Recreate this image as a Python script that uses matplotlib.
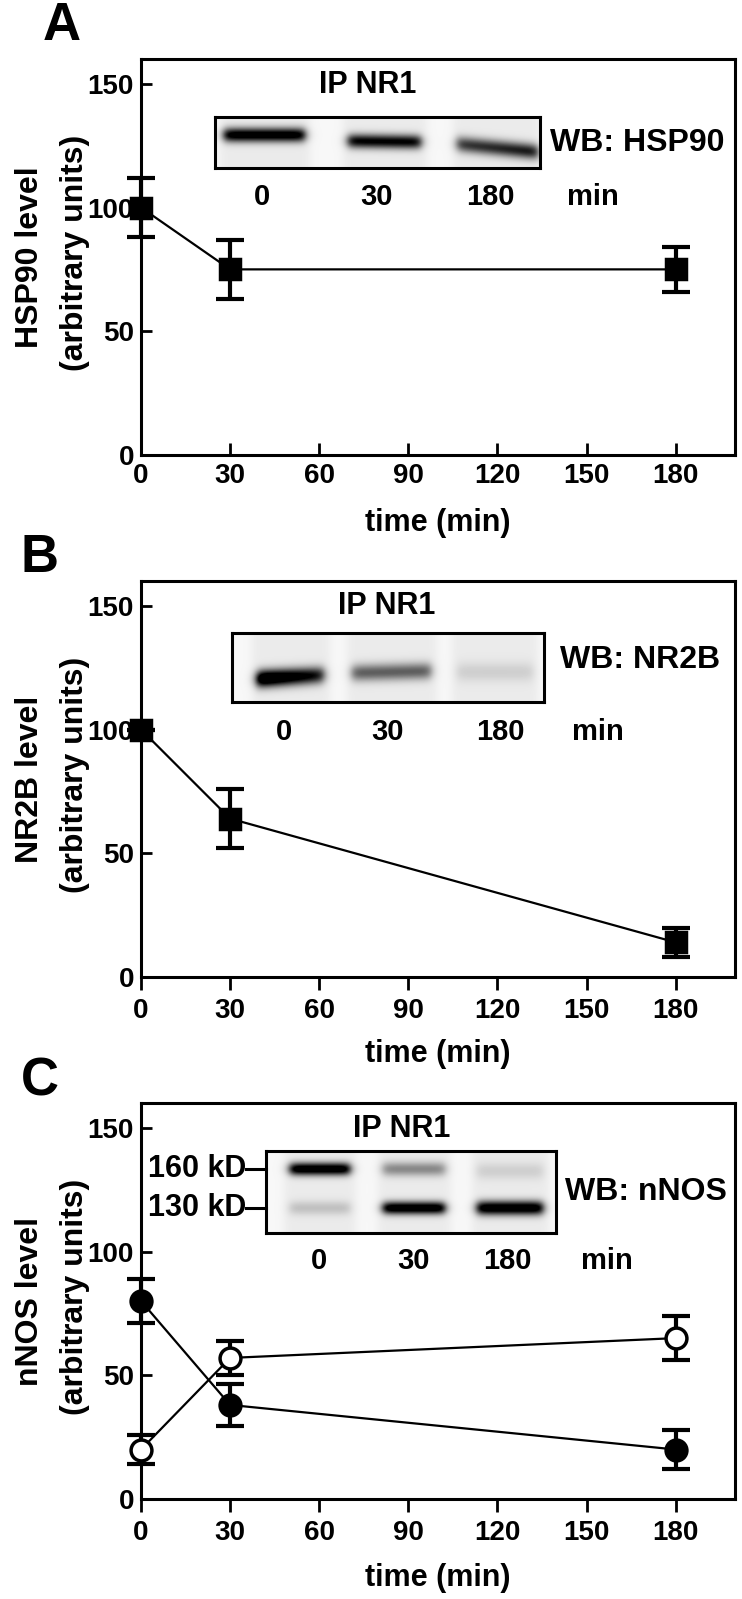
import numpy as np
import matplotlib
matplotlib.use("Agg")
import matplotlib.pyplot as plt
from matplotlib import font_manager

# ---- data ----
time_pts = [0, 30, 180]
x_ticks = [0, 30, 60, 90, 120, 150, 180]
y_ticks = [0, 50, 100, 150]
lane_labels = ["0", "30", "180"]

hsp90_mean = [100, 75, 75]
hsp90_err = [12, 12, 9]

nr2b_mean = [100, 64, 14]
nr2b_err = [0, 12, 6]

nnos160_mean = [80, 38, 20]
nnos160_err = [9, 8.5, 8]
nnos130_mean = [20, 57, 65]
nnos130_err = [6, 7, 9]

# relative band darkness per lane (0, 30, 180 min)
hsp90_band = [0.95, 0.85, 0.70]
nr2b_band = [1.0, 0.50, 0.10]
nnos160_band = [1.0, 0.35, 0.10]
nnos130_band = [0.15, 1.0, 1.0]

panel_letters = ["A", "B", "C"]
y_names = ["HSP90 level", "NR2B level", "nNOS level"]
wb_names = ["WB: HSP90", "WB: NR2B", "WB: nNOS"]

# ---- layout (pixels) ----
W, H = 742, 1599
names = [f.name for f in font_manager.fontManager.ttflist]
FONT = "Liberation Sans" if "Liberation Sans" in names else "DejaVu Sans"
plt.rcParams["font.family"] = FONT
plt.rcParams["font.weight"] = "bold"

fig = plt.figure(figsize=(W / 100, H / 100), dpi=100)


def rect(x0, y0, x1, y1):
    return [x0 / W, 1 - y1 / H, (x1 - x0) / W, (y1 - y0) / H]


def ftext(x, y, s, **kw):
    kw.setdefault("fontweight", "bold")
    return fig.text(x / W, 1 - y / H, s, **kw)


def draw_blot(box, lanes, bands):
    # lanes: (x0, x1) columns of the gel; bands: (x0, x1, y_left, y_right, amp, sigma, skew)
    x0, y0, x1, y1 = box
    w, h = x1 - x0, y1 - y0
    bax = fig.add_axes(rect(*box))
    yy, xx = np.mgrid[0:h, 0:w] + 0.5
    img = np.full((h, w), 0.03)
    for lx0, lx1 in lanes:
        img += 0.05 * 0.5 * (np.tanh((xx - lx0) / 5) - np.tanh((xx - lx1) / 5))
    for bx0, bx1, ycl, ycr, amp, sy, skew in bands:
        t = np.clip((xx - bx0) / (bx1 - bx0), 0, 1)
        yc = ycl + (ycr - ycl) * t
        xprof = 0.5 * (np.tanh((xx - bx0) / 5) - np.tanh((xx - bx1) / 5))
        a = amp * (1 + skew * (0.5 - t))
        img += 1.1 * a * xprof * np.exp(-0.5 * ((yy - yc) / sy) ** 2)
    bax.imshow(np.clip(img, 0, 1), cmap="gray_r", vmin=0, vmax=1,
               extent=(0, w, h, 0), aspect="auto", interpolation="bilinear")
    bax.set_xticks([])
    bax.set_yticks([])
    for s in bax.spines.values():
        s.set_linewidth(2.2)
    return bax


panel_tops = [59, 581, 1103]
panel_bottoms = [455, 977, 1499]
AX_L, AX_R = 141, 735

axes = []
for i in range(3):
    ax = fig.add_axes(rect(AX_L, panel_tops[i], AX_R, panel_bottoms[i]))
    ax.set_xlim(0, 200)
    ax.set_ylim(0, 160)
    ax.set_xticks(x_ticks)
    ax.set_yticks(y_ticks)
    ax.tick_params(axis="x", direction="in" if i == 0 else "out", length=9,
                   width=2, pad=6, labelsize=20)
    ax.tick_params(axis="y", direction="in", length=8, width=2, pad=5,
                   labelsize=20)
    for lab in ax.get_xticklabels() + ax.get_yticklabels():
        lab.set_fontweight("bold")
    for s in ax.spines.values():
        s.set_linewidth(2.2)
    axes.append(ax)


def series(ax, y, err, marker, filled, ms):
    ax.plot(time_pts, y, "-", color="black", lw=1.6, zorder=2, clip_on=False)
    eb = ax.errorbar(time_pts, y, yerr=err, fmt="none", ecolor="black",
                     elinewidth=3, capsize=10, capthick=3, zorder=3)
    for art in eb.get_children():
        art.set_clip_on(False)
    ax.plot(time_pts, y, marker, ms=ms, mfc="black" if filled else "white",
            mec="black", mew=2.5, linestyle="none", zorder=4, clip_on=False)


series(axes[0], hsp90_mean, hsp90_err, "s", True, 15)
series(axes[1], nr2b_mean, nr2b_err, "s", True, 15)
series(axes[2], nnos160_mean, nnos160_err, "o", True, 15)
series(axes[2], nnos130_mean, nnos130_err, "o", False, 15)

# ---- labels ----
letter_pos = [(62, 26), (40, 558), (40, 1081)]
xlabel_y = [523, 1054, 1578]
for i in range(3):
    mid = (panel_tops[i] + panel_bottoms[i]) / 2
    ftext(letter_pos[i][0], letter_pos[i][1], panel_letters[i], fontsize=38,
          ha="center", va="center")
    ftext(30, mid, y_names[i], fontsize=23, rotation=90, ha="center", va="center")
    ftext(75, mid - 4, "(arbitrary units)", fontsize=23, rotation=90,
          ha="center", va="center")
    ftext((AX_L + AX_R) / 2, xlabel_y[i], "time (min)", fontsize=22,
          ha="center", va="center")

# ---- blot insets ----
# panel A
draw_blot((215, 117, 540, 168),
          [(5, 95), (128, 212), (238, 325)], [
    (9, 90, 18, 18, hsp90_band[0], 5, 0.0),
    (133, 206, 24, 25, hsp90_band[1], 5, 0.0),
    (242, 323, 27, 35, hsp90_band[2], 5.5, -0.2),
])
ftext(368, 85, "IP NR1", fontsize=22, ha="center", va="center")
ftext(550, 143, wb_names[0], fontsize=23, ha="left", va="center")
for lx, s in zip([262, 377, 490, 593], lane_labels + ["min"]):
    ftext(lx, 197, s, fontsize=21, ha="center", va="center")

# panel B
draw_blot((232, 633, 544, 702),
          [(20, 98), (115, 205), (220, 306)], [
    (25, 92, 46, 42, nr2b_band[0], 6, 0.5),
    (120, 199, 40, 38, nr2b_band[1], 6, 0.0),
    (225, 301, 39, 39, nr2b_band[2], 7, 0.0),
])
ftext(387, 606, "IP NR1", fontsize=22, ha="center", va="center")
ftext(560, 660, wb_names[1], fontsize=23, ha="left", va="center")
for lx, s in zip([284, 388, 500, 598], lane_labels + ["min"]):
    ftext(lx, 732, s, fontsize=21, ha="center", va="center")

# panel C
draw_blot((266, 1151, 556, 1233),
          [(18, 90), (112, 185), (206, 283)], [
    (24, 84, 18, 18, nnos160_band[0], 4.5, 0.0),
    (117, 179, 18, 18, nnos160_band[1], 5, 0.0),
    (211, 277, 20, 20, nnos160_band[2], 6, 0.0),
    (24, 84, 57, 57, nnos130_band[0], 5, 0.0),
    (117, 179, 57, 57, nnos130_band[1], 4.5, 0.0),
    (211, 277, 57, 57, nnos130_band[2], 5, 0.0),
])
ftext(402, 1129, "IP NR1", fontsize=22, ha="center", va="center")
ftext(565, 1192, wb_names[2], fontsize=23, ha="left", va="center")
for ky, s in zip([1169, 1208], ["160 kD", "130 kD"]):
    ftext(246, ky, s, fontsize=22, ha="right", va="center")
    fig.add_artist(plt.Line2D([246 / W, 266 / W], [1 - ky / H, 1 - ky / H],
                              color="black", lw=2.2))
for lx, s in zip([319, 414, 507, 607], lane_labels + ["min"]):
    ftext(lx, 1261, s, fontsize=21, ha="center", va="center")

fig.savefig("out.png", dpi=100)
